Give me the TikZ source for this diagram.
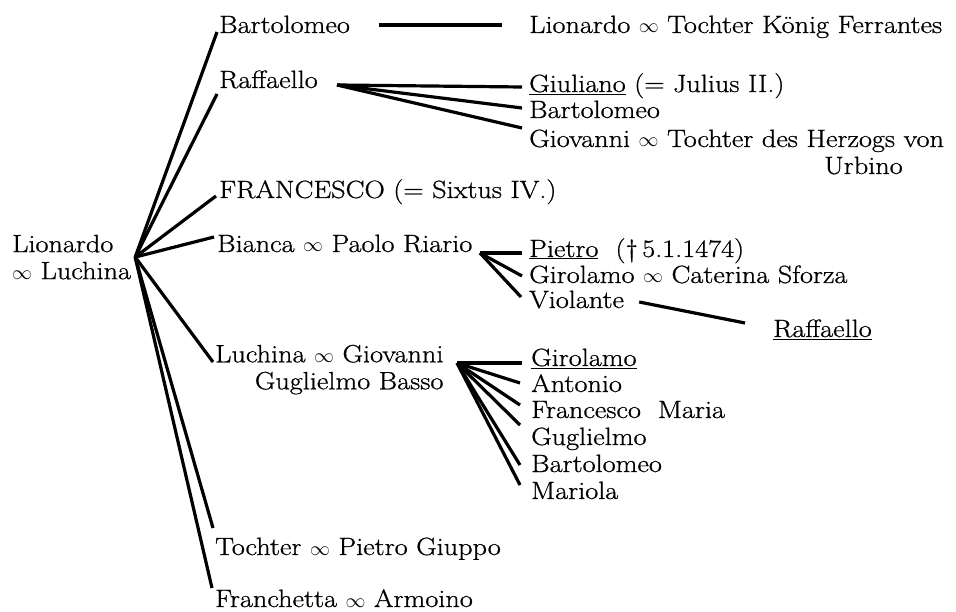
\documentclass[tikz,border=0pt]{standalone}
\usepackage{fontspec}
\setmainfont{Latin Modern Roman}[FakeStretch=1.13, FakeBold=0.8]
\usepackage{tikz}
\tikzstyle{person} = [anchor=base west, inner sep=1pt, font=\fontsize{25}{27}\selectfont]
\tikzstyle{couple} = [anchor=north west, inner sep=1pt, font=\fontsize{25}{27}\selectfont]
\tikzstyle{branch} = [line width=3.2pt]
\newcommand{\oo}{\scalebox{0.8}{$\infty$}}

\begin{document}
\begin{tikzpicture}[x=1pt, y=-1pt]
  \useasboundingbox (0,0) rectangle (956,612);

  % first generation
  \node (parent) [couple, align=left] at (11,233.6) {Lionardo\\\oo{} Luchina};
  \coordinate (root) at ([shift={(3,0)}]parent.east);

  % children
  \node (bart) [person] at (218,33) {Bartolomeo};
  \node (raff) [person] at (218,88) {Raffaello};
  \node (fran) [person] at (218,198) {FRANCESCO (= Sixtus IV.)};
  \node (bianca) [person] at (216,252) {Bianca \oo{} Paolo Riario};
  \node (luch) [couple, align=right] at (214,343.6) {Luchina \oo{} Giovanni\\Guglielmo Basso};
  \node (tochter) [person] at (214,555) {Tochter \oo{} Pietro Giuppo};
  \node (franch) [person] at (214,607) {Franchetta \oo{} Armoino};

  \draw[branch] (root) -- ([shift={(-1,-1)}]bart.base west);
  \draw[branch] (root) -- ([shift={(-1,6)}]raff.base west);
  \draw[branch] (root) -- ([shift={(-2,-2)}]fran.base west);
  \draw[branch] (root) -- ([shift={(-2,-15)}]bianca.base west);
  \draw[branch] (root) -- ([shift={(-1,18.4)}]luch.north west);
  \draw[branch] (root) -- ([shift={(-1,-27)}]tochter.base west);
  \draw[branch] (root) -- ([shift={(-2,-19)}]franch.base west);

  % grandchildren
  \node (lionF) [person] at (528,33) {Lionardo \oo{} Tochter König Ferrantes};
  \draw[branch] ([shift={(28,-8)}]bart.base east) -- ([shift={(-26,-8)}]lionF.base west);

  \node (giul) [person] at (528,92) {\underline{Giuliano} (= Julius II.)};
  \node (bartR) [person] at (528,118) {Bartolomeo};
  \node (giov) [person] at (528,147) {Giovanni \oo{} Tochter des Herzogs von};
  \node (urb) [person] at (823,174) {Urbino};
  \coordinate (rv) at ([shift={(-191,-7)}]giul.base west);
  \draw[branch] (rv) -- ([shift={(-6,-5)}]giul.base west);
  \draw[branch] (rv) -- ([shift={(-6,-10)}]bartR.base west);
  \draw[branch] (rv) -- ([shift={(-6,-19)}]giov.base west);

  \node (pietro) [person] at (528,257) {\underline{Pietro}\ \ (\textdagger\,5.1.1474)};
  \node (girC) [person] at (528,283) {Girolamo \oo{} Caterina Sforza};
  \node (viol) [person] at (528,308) {Violante};
  \node (raffV) [person] at (772,337) {\underline{Raffaello}};
  \coordinate (bv) at ([shift={(-48,-4)}]pietro.base west);
  \draw[branch] (bv) -- ([shift={(-6,-4)}]pietro.base west);
  \draw[branch] (bv) -- ([shift={(-6,-7)}]girC.base west);
  \draw[branch] (bv) -- ([shift={(-7,-11)}]viol.base west);
  \draw[branch] ([shift={(14,-6)}]viol.base east) -- ([shift={(-27,-14)}]raffV.base west);

  \node (girM) [person] at (530,366) {\underline{Girolamo}};
  \node (anton) [person] at (530,392) {Antonio};
  \node (fmar) [person] at (530,418) {Francesco\ \ Maria};
  \node (gugl) [person] at (530,445) {Guglielmo};
  \node (bartL) [person] at (530,472) {Bartolomeo};
  \node (mari) [person] at (530,499) {Mariola};
  \coordinate (lv) at ([shift={(-73,-3)}]girM.base west);
  \draw[branch] (lv) -- ([shift={(-8,-3)}]girM.base west);
  \draw[branch] (lv) -- ([shift={(-10,-9)}]anton.base west);
  \draw[branch] (lv) -- ([shift={(-10,-13)}]fmar.base west);
  \draw[branch] (lv) -- ([shift={(-10,-20)}]gugl.base west);
  \draw[branch] (lv) -- ([shift={(-10,-7)}]bartL.base west);
  \draw[branch] (lv) -- ([shift={(-10,-14)}]mari.base west);

\end{tikzpicture}
\end{document}
